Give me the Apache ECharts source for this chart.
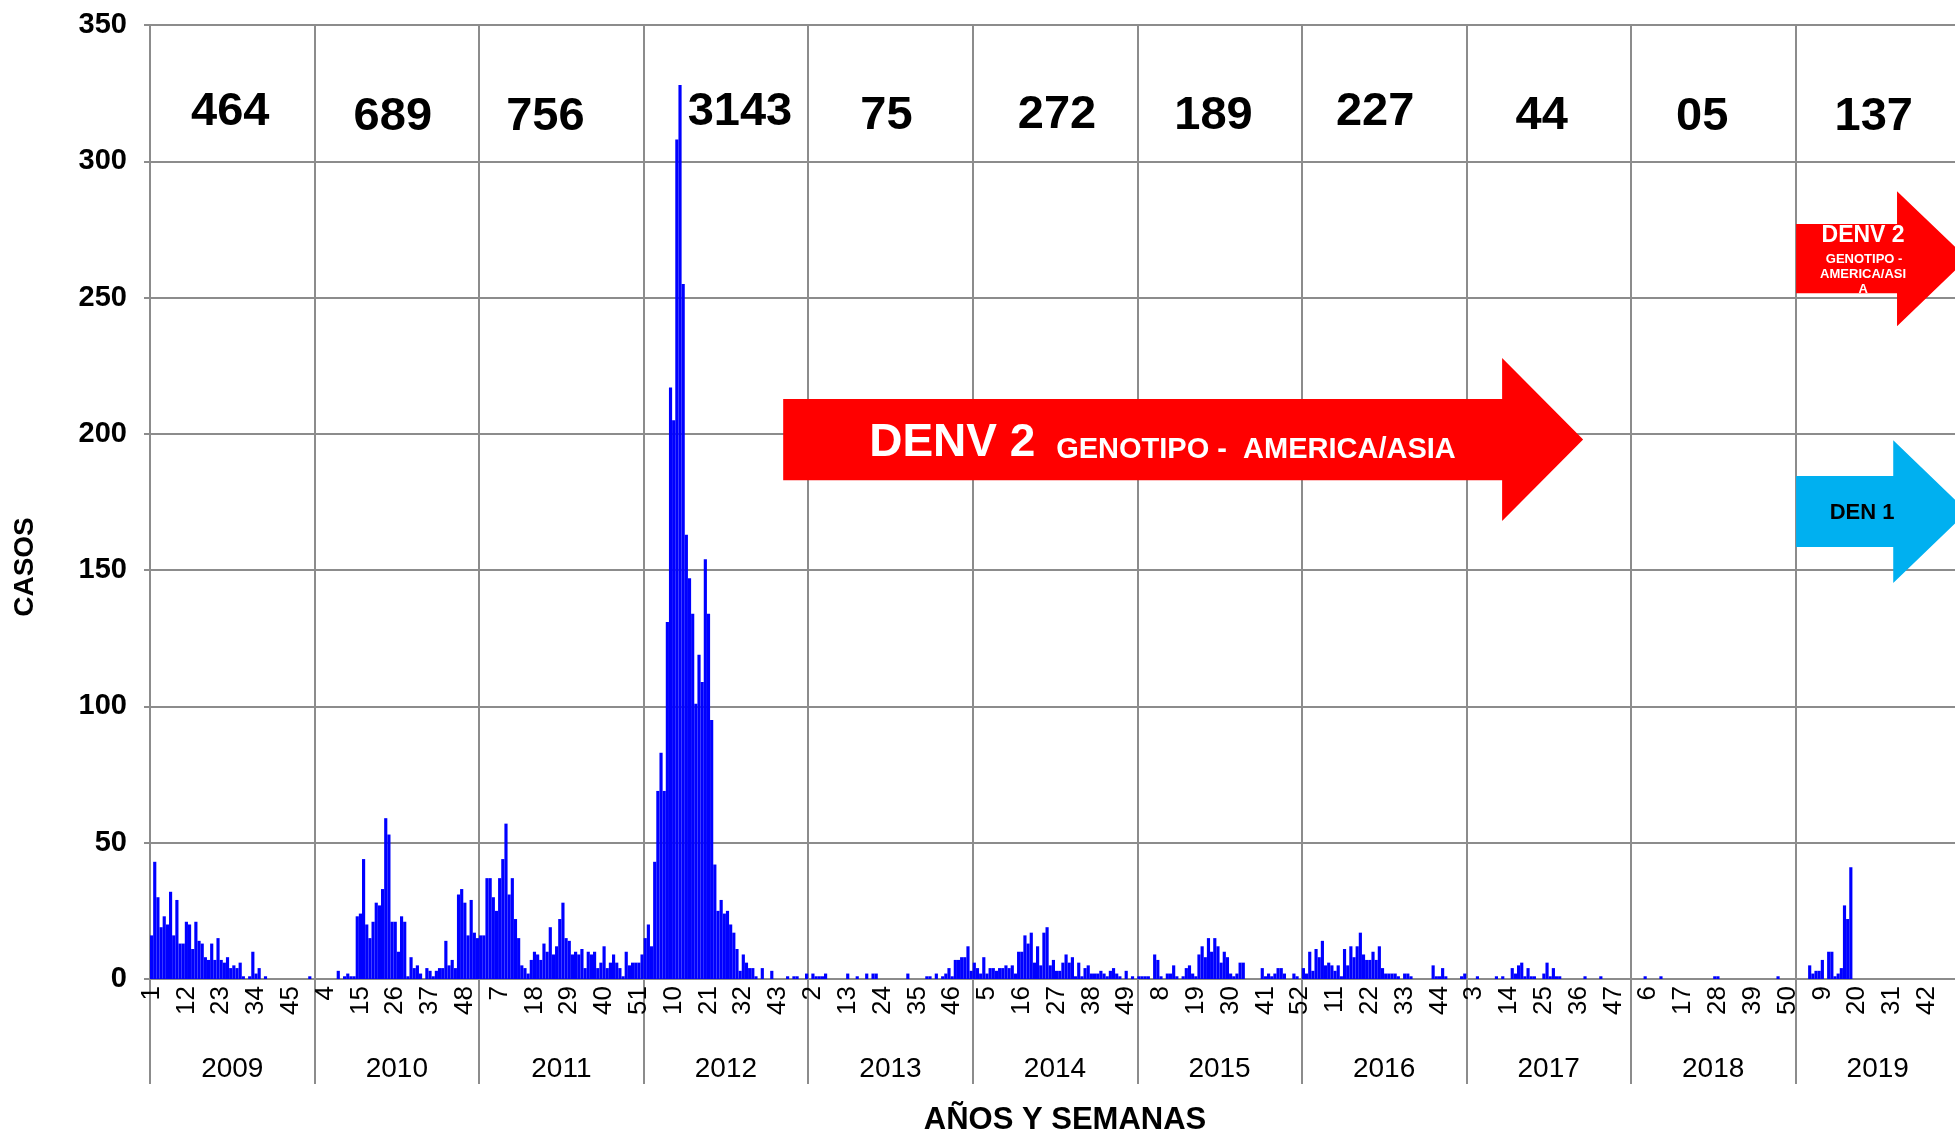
<!DOCTYPE html>
<html>
<head>
<meta charset="utf-8">
<title>Casos por semana 2009-2019</title>
<script src="https://cdn.jsdelivr.net/npm/echarts@6/dist/echarts.min.js"></script>
<style>
  html, body {margin: 0; padding: 0; background: #fff;}
  #chart {width: 1955px; height: 1135px;}
</style>
</head>
<body>
<div id="chart"></div>
<script>
const years = ['2009', '2010', '2011', '2012', '2013', '2014', '2015', '2016', '2017', '2018', '2019']
const weekNumbers = Array.from({length: 52}, (_, i) => String(i + 1))
const totals = ['464', '689', '756', '3143', '75', '272', '189', '227', '44', '05', '137']

const cases2009 = [16, 43, 30, 19, 23, 20, 32, 16, 29, 13, 13, 21, 20, 11, 21, 14, 13, 8, 7, 13, 7, 15, 7, 6, 8, 4, 5, 4, 6, 1, 0, 1, 10, 2, 4, 0, 1, 0, 0, 0, 0, 0, 0, 0, 0, 0, 0, 0, 0, 0, 1, 0]
const cases2010 = [0, 0, 0, 0, 0, 0, 0, 3, 0, 1, 2, 1, 1, 23, 24, 44, 20, 15, 21, 28, 27, 33, 59, 53, 21, 21, 10, 23, 21, 1, 8, 4, 5, 2, 0, 4, 3, 1, 3, 4, 4, 14, 5, 7, 4, 31, 33, 28, 16, 29, 17, 15]
const cases2011 = [16, 16, 37, 37, 30, 25, 37, 44, 57, 31, 37, 22, 15, 5, 4, 2, 7, 10, 9, 7, 13, 10, 19, 9, 12, 22, 28, 15, 14, 9, 10, 9, 11, 4, 10, 9, 10, 4, 6, 12, 4, 6, 9, 6, 4, 1, 10, 5, 6, 6, 6, 9]
const cases2012 = [15, 20, 12, 43, 69, 83, 69, 131, 217, 205, 308, 328, 255, 163, 147, 134, 101, 119, 109, 154, 134, 95, 42, 25, 29, 24, 25, 20, 17, 11, 3, 9, 6, 4, 4, 1, 0, 4, 0, 0, 3, 0, 0, 0, 0, 1, 0, 1, 1, 0, 0, 2]
const cases2013 = [0, 2, 1, 1, 1, 2, 0, 0, 0, 0, 0, 0, 2, 0, 0, 1, 0, 0, 2, 0, 2, 2, 0, 0, 0, 0, 0, 0, 0, 0, 0, 2, 0, 0, 0, 0, 0, 1, 1, 0, 2, 0, 1, 2, 4, 1, 7, 7, 8, 8, 12, 3]
const cases2014 = [6, 4, 2, 8, 2, 4, 4, 3, 4, 4, 5, 4, 5, 2, 10, 10, 16, 13, 17, 6, 12, 5, 17, 19, 5, 7, 3, 3, 6, 9, 6, 8, 1, 6, 1, 4, 5, 2, 2, 2, 3, 2, 1, 3, 4, 2, 1, 0, 3, 0, 1, 0]
const cases2015 = [1, 1, 1, 1, 0, 9, 7, 1, 0, 2, 2, 5, 1, 0, 1, 4, 5, 2, 1, 9, 12, 8, 15, 10, 15, 12, 6, 10, 8, 2, 1, 2, 6, 6, 0, 0, 0, 0, 0, 4, 1, 2, 1, 2, 4, 4, 2, 0, 0, 2, 1, 0]
const cases2016 = [4, 2, 10, 3, 11, 8, 14, 5, 6, 5, 3, 5, 1, 11, 5, 12, 8, 12, 17, 9, 7, 7, 10, 7, 12, 4, 2, 2, 2, 2, 1, 0, 2, 2, 1, 0, 0, 0, 0, 0, 0, 5, 1, 1, 4, 1, 0, 0, 0, 0, 1, 2]
const cases2017 = [0, 0, 0, 1, 0, 0, 0, 0, 0, 1, 0, 1, 0, 0, 4, 2, 5, 6, 1, 4, 1, 1, 0, 0, 2, 6, 1, 4, 1, 1, 0, 0, 0, 0, 0, 0, 0, 1, 0, 0, 0, 0, 1, 0, 0, 0, 0, 0, 0, 0, 0, 0]
const cases2018 = [0, 0, 0, 0, 1, 0, 0, 0, 0, 1, 0, 0, 0, 0, 0, 0, 0, 0, 0, 0, 0, 0, 0, 0, 0, 0, 1, 1, 0, 0, 0, 0, 0, 0, 0, 0, 0, 0, 0, 0, 0, 0, 0, 0, 0, 0, 1, 0, 0, 0, 0, 0]
const cases2019 = [0, 0, 0, 0, 5, 2, 3, 3, 7, 0, 10, 10, 1, 2, 4, 27, 22, 41, 0, 0, 0, 0, 0, 0, 0, 0, 0, 0, 0, 0, 0, 0, 0, 0, 0, 0, 0, 0, 0, 0, 0, 0, 0, 0, 0, 0, 0, 0, 0, 0, 0, 0]

const casesByYear = [cases2009, cases2010, cases2011, cases2012, cases2013, cases2014,
  cases2015, cases2016, cases2017, cases2018, cases2019]
const weekLabels = years.flatMap(() => weekNumbers)
const weeklyCases = casesByYear.flat()

const FONT = 'Liberation Sans, Arial, sans-serif'

// small nudges of the yearly totals, in pixels
const totalNudges = [[-2, 0], [-4, 5], [-16, 5], [14, 0], [-4, 4], [2, 3], [-6, 4], [-9, 0], [-7, 4], [-11, 5], [-4, 5]]

// arrows, in category-index / value units
const arrows = [
  {
    from: 199.6, neck: 426.8, tip: 452.4, bodyTop: 212.8, bodyBottom: 183, headTop: 227.8, headBottom: 168,
    color: '#ff0000',
    texts: [
      {text: 'DENV 2', dx: 86, dy: 4, size: 46, align: 'left', color: '#fff'},
      {text: 'GENOTIPO -  AMERICA/ASIA', dx: 273, dy: 10, size: 29, align: 'left', color: '#fff'}
    ]
  },
  {
    from: 519.7, neck: 551.6, tip: 573.8, bodyTop: 277, bodyBottom: 251.6, headTop: 289, headBottom: 239.5,
    color: '#ff0000',
    texts: [
      {text: 'DENV 2', dx: 67, dy: -23, size: 23, align: 'center', color: '#fff'},
      {text: 'GENOTIPO -', dx: 68, dy: 0.5, size: 13, align: 'center', color: '#fff'},
      {text: 'AMERICA/ASI', dx: 67, dy: 15.5, size: 13, align: 'center', color: '#fff'},
      {text: 'A', dx: 67, dy: 30.5, size: 13, align: 'center', color: '#fff'}
    ]
  },
  {
    from: 519.7, neck: 550.4, tip: 573.8, bodyTop: 184.5, bodyBottom: 158.5, headTop: 197.7, headBottom: 145.3,
    color: '#00b0f0',
    texts: [
      {text: 'DEN 1', dx: 66, dy: 1.5, size: 22, align: 'center', color: '#000'}
    ]
  }
]

const renderArrow = (params, api) => {
  const a = arrows[params.dataIndex]
  const band = api.size([1, 0])[0]
  const x0 = api.coord([0, 0])[0]
  const px = i => x0 + i * band
  const py = v => api.coord([0, v])[1]
  const yc = py((a.bodyTop + a.bodyBottom) / 2)
  const children = [{
    type: 'polygon',
    shape: {
      points: [
        [px(a.from), py(a.bodyTop)], [px(a.neck), py(a.bodyTop)], [px(a.neck), py(a.headTop)],
        [px(a.tip), yc],
        [px(a.neck), py(a.headBottom)], [px(a.neck), py(a.bodyBottom)], [px(a.from), py(a.bodyBottom)]
      ]
    },
    style: {fill: a.color}
  }]
  a.texts.forEach(t => {
    children.push({
      type: 'text',
      x: px(a.from) + t.dx,
      y: yc + t.dy,
      style: {
        text: t.text, fill: t.color, fontFamily: FONT, fontWeight: 'bold', fontSize: t.size,
        align: t.align, verticalAlign: 'middle'
      }
    })
  })
  return {type: 'group', children}
}

const renderTotal = (params, api) => {
  const [x, y] = api.coord([api.value(0), api.value(1)])
  const [dx, dy] = totalNudges[params.dataIndex]
  return {
    type: 'text',
    x: x + dx,
    y: y + dy,
    style: {
      text: totals[params.dataIndex], fill: '#000', fontFamily: FONT, fontWeight: 'bold', fontSize: 47,
      align: 'center', verticalAlign: 'middle'
    }
  }
}

const gray = '#8c8c8c'
const chart = echarts.init(document.getElementById('chart'))
chart.setOption({
  animation: false,
  backgroundColor: '#fff',
  textStyle: {fontFamily: FONT},
  grid: {left: 150, right: -5, top: 25, bottom: 156, containLabel: false, outerBoundsMode: 'none'},
  xAxis: [{
    type: 'category',
    data: weekLabels,
    position: 'bottom',
    axisLine: {lineStyle: {color: gray, width: 2}},
    axisTick: {show: false},
    axisLabel: {interval: 10, rotate: 90, fontSize: 26, color: '#000', margin: 7, fontFamily: FONT},
    splitLine: {show: false}
  }, {
    type: 'category',
    data: years,
    position: 'bottom',
    axisLine: {show: false},
    axisTick: {show: true, interval: 0, length: 105, lineStyle: {color: gray, width: 2}},
    axisLabel: {interval: 0, fontSize: 28, color: '#000', margin: 76, fontFamily: FONT},
    splitLine: {show: true, interval: 0, lineStyle: {color: gray, width: 2}}
  }],
  yAxis: {
    type: 'value',
    min: 0,
    max: 350,
    interval: 50,
    axisLine: {show: true, lineStyle: {color: gray, width: 2}},
    axisTick: {show: true, length: 6, lineStyle: {color: gray, width: 2}},
    axisLabel: {fontSize: 29, fontWeight: 'bold', color: '#000', margin: 23, fontFamily: FONT},
    splitLine: {lineStyle: {color: gray, width: 2}}
  },
  graphic: [{
    type: 'text',
    x: 25, y: 567,
    rotation: Math.PI / 2,
    style: {text: 'CASOS', fontFamily: FONT, fontWeight: 'bold', fontSize: 28, fill: '#000', align: 'center', verticalAlign: 'middle'}
  }, {
    type: 'text',
    x: 1065, y: 1120,
    style: {text: 'AÑOS Y SEMANAS', fontFamily: FONT, fontWeight: 'bold', fontSize: 31, fill: '#000', align: 'center', verticalAlign: 'middle'}
  }],
  series: [{
    type: 'bar',
    xAxisIndex: 0,
    data: weeklyCases,
    barCategoryGap: '0%',
    itemStyle: {color: '#0000ff'},
    z: 3
  }, {
    type: 'custom',
    xAxisIndex: 1,
    clip: false,
    renderItem: renderTotal,
    data: totals.map((t, i) => [i, 318]),
    z: 5
  }, {
    type: 'custom',
    xAxisIndex: 0,
    clip: false,
    renderItem: renderArrow,
    data: arrows.map(a => [a.from, a.bodyTop]),
    z: 6
  }]
})
</script>
</body>
</html>
